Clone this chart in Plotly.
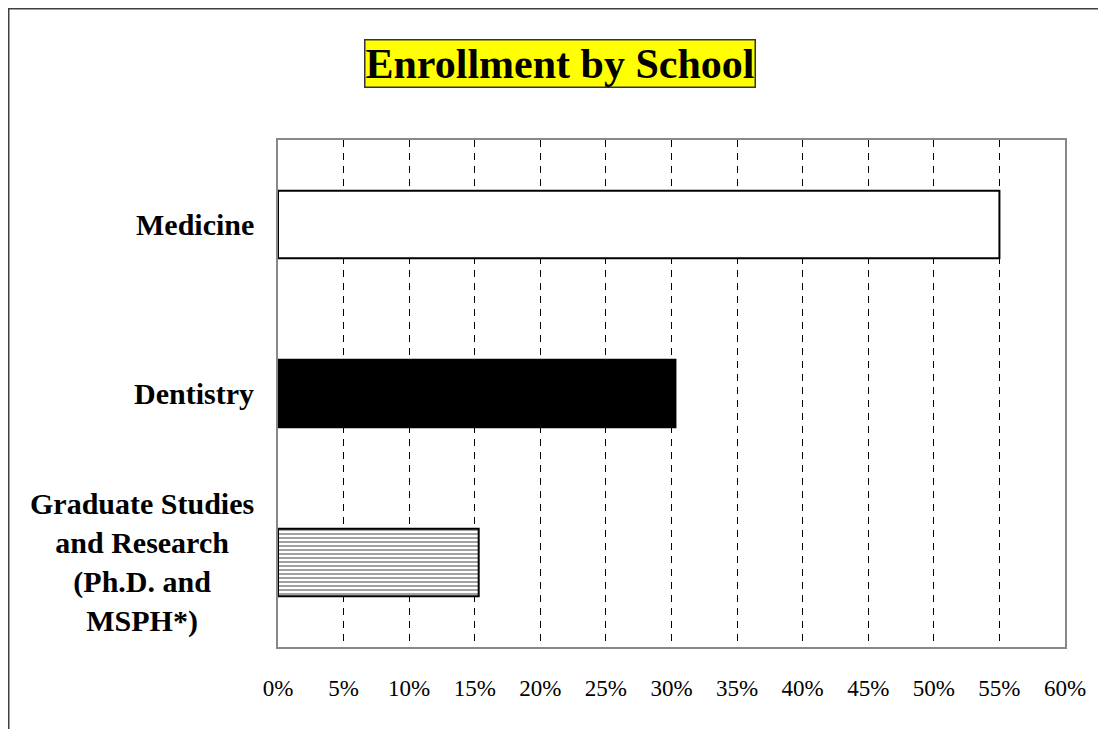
import plotly.graph_objects as go

categories = ["Medicine", "Dentistry", "Graduate Studies and Research (Ph.D. and MSPH*)"]
category_labels = ["Medicine", "Dentistry", "Graduate Studies<br>and Research<br>(Ph.D. and<br>MSPH*)"]
values = [55.0, 30.3, 15.3]
tick_vals = [0, 5, 10, 15, 20, 25, 30, 35, 40, 45, 50, 55, 60]
tick_text = [f"{v}%" for v in tick_vals]
title_text = "Enrollment by School"

bar_colors = ["white", "black", "white"]
bar_patterns = ["", "", "-"]

SERIF = "Liberation Serif, Times New Roman, serif"

# page offset of the figure (body margin)
OFF = 8
W, H = 1106 - OFF, 729 - OFF
L, R, T, B = 278 - OFF, 41, 140 - OFF, 82
pw, ph = W - L - R, H - T - B

def px_x(px):  # px in page coordinates
    return (px - OFF - L) / pw

def px_y(py):
    return (H - B - (py - OFF)) / ph

fig = go.Figure()
fig.add_trace(go.Bar(
    x=values, y=categories, orientation="h",
    marker=dict(color=bar_colors, line=dict(color="black", width=2),
                pattern=dict(shape=bar_patterns, fgcolor="black", size=4, solidity=0.5)),
    width=0.4, hoverinfo="skip",
))

annotations = []
for cat, lab in zip(categories, category_labels):
    annotations.append(dict(
        x=px_x(256), xref="paper", y=cat, yref="y", text="<b>" + lab.replace("<br>", "</b><br><b>") + "</b>",
        showarrow=False, xanchor="right", yanchor="middle", align="center",
        font=dict(family=SERIF, size=30, color="black"),
    ))
annotations.append(dict(
    x=px_x(560), xref="paper", y=px_y(64), yref="paper", text="<b>" + title_text + "</b>", showarrow=False,
    xanchor="center", yanchor="middle",
    font=dict(family=SERIF, size=42, color="black"),
    bgcolor="#ffff00", bordercolor="#333333", borderwidth=1.5, borderpad=0,
))

fig.update_layout(
    width=W, height=H,
    margin=dict(l=L, r=R, t=T, b=B),
    paper_bgcolor="white", plot_bgcolor="white",
    showlegend=False,
    bargap=0.6,
    annotations=annotations,
    shapes=[dict(type="rect", xref="paper", yref="paper",
                 x0=px_x(OFF + 0.75), x1=px_x(1200), y0=px_y(OFF + 0.75), y1=px_y(800),
                 line=dict(color="#404040", width=1.5), fillcolor="rgba(0,0,0,0)", layer="below")],
    xaxis=dict(
        range=[0, 60], tickvals=tick_vals, ticktext=tick_text,
        showgrid=True, gridcolor="black", gridwidth=1, griddash="7px,6px",
        zeroline=False, showline=True, mirror=True, linecolor="#888888", linewidth=2,
        ticks="outside", ticklen=19, tickcolor="rgba(0,0,0,0)",
        tickfont=dict(family=SERIF, size=23, color="black"),
        fixedrange=True,
    ),
    yaxis=dict(
        autorange="reversed", showticklabels=False, showgrid=False, zeroline=False,
        showline=True, mirror=True, linecolor="#888888", linewidth=2, ticks="",
        fixedrange=True,
    ),
)

fig.write_html("out.html")
